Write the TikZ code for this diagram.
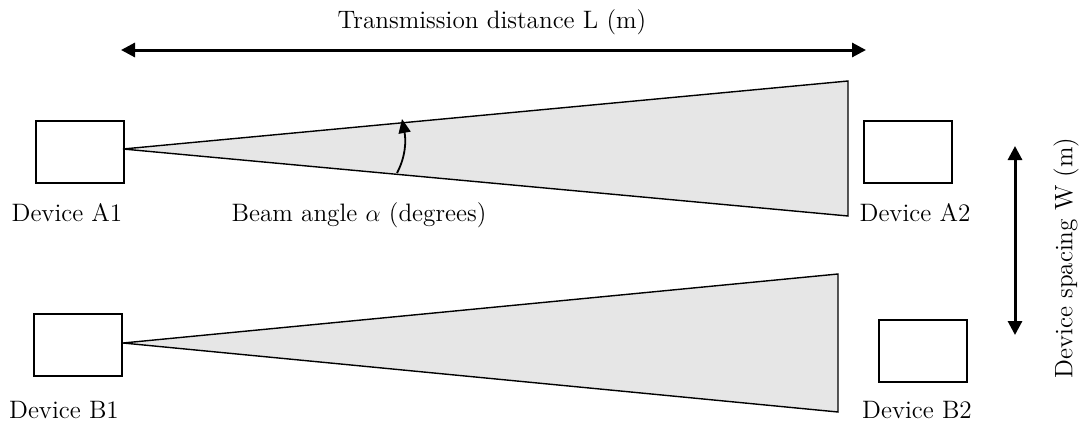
\documentclass[tikz,border=0pt]{standalone}
\usetikzlibrary{arrows.meta}
\definecolor{beamgray}{HTML}{E6E6E6}
\begin{document}
\begin{tikzpicture}[x=0.5pt,y=-0.5pt,
  device/.style={draw,line width=1pt,minimum width=44pt,minimum height=31pt,inner sep=0pt,anchor=north west},
  beam/.style={draw,fill=beamgray,line width=0.7pt,line join=miter},
  lbl/.style={font=\fontsize{12.6}{15}\selectfont,inner sep=0pt},
  dim/.style={line width=1.5pt,{Triangle[length=7pt,width=7pt]}-{Triangle[length=7pt,width=7pt]}},
  ang/.style={line width=0.9pt,-{Triangle[length=7pt,width=6pt]}}]
\useasboundingbox (0,0) rectangle (1081,428);
% beams
\coordinate (aA) at (123,149);
\coordinate (aT) at (848,81);
\coordinate (aB) at (848,216);
\coordinate (bA) at (123,343);
\coordinate (bT) at (838,274);
\coordinate (bB) at (838,412);
\draw[beam] (aA) -- (aT) -- (aB) -- cycle;
\draw[beam] (bA) -- (bT) -- (bB) -- cycle;
% devices
\node[device] (A1) at (35,120) {};
\node[device] (A2) at (863,120) {};
\node[device] (B1) at (33,313) {};
\node[device] (B2) at (878,319) {};
% labels
\node[lbl] (lA1) at (67,213) {Device A1};
\node[lbl] (lA2) at (915,213) {Device A2};
\node[lbl] (lB1) at (64,410) {Device B1};
\node[lbl] (lB2) at (917,410) {Device B2};
\node[lbl] (lang) at (359,215) {Beam angle $\alpha$ (degrees)};
\node[lbl] (lL) at (492,22) {Transmission distance L (m)};
\node[lbl,rotate=90] (lW) at (1066,258) {Device spacing W (m)};
% transmission distance arrow
\coordinate (L1) at (121,50);
\coordinate (L2) at (866,50);
\draw[dim] (L1) -- (L2);
% spacing arrow
\coordinate (W1) at (1015,146);
\coordinate (W2) at (1015,335);
\draw[dim] (W1) -- (W2);
% angle arrow
\coordinate (g1) at (397,173);
\coordinate (g2) at (402,119);
\draw[ang] (g1) .. controls (406,156) and (406,140) .. (g2);
\end{tikzpicture}
\end{document}
